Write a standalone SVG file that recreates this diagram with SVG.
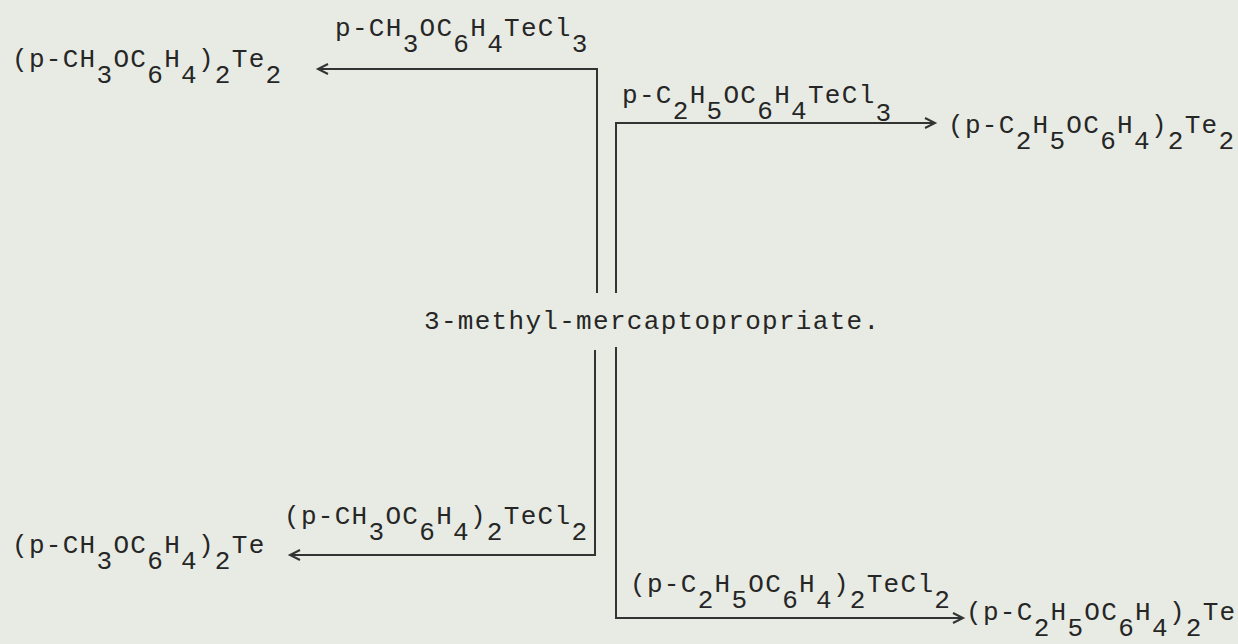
<svg xmlns="http://www.w3.org/2000/svg" width="1238" height="644" viewBox="0 0 1238 644">
<style>
  .t { font-family: "Liberation Mono", "DejaVu Sans Mono", monospace; font-size: 26px; fill: #262626; letter-spacing: 1.3px; }
  .c { fill: none; stroke: #333; stroke-width: 2; }
</style>
<defs>
  <marker id="ah" markerUnits="userSpaceOnUse" markerWidth="16" markerHeight="14" refX="13" refY="7" orient="auto">
    <path d="M3,2 L13,7 L3,12" fill="none" stroke="#333" stroke-width="2"/>
  </marker>
</defs>
<rect width="1238" height="644" fill="#e7ebe3"/>
<g id="connectors">
  <path class="c" d="M597,293 V69 H318" marker-end="url(#ah)"/>
  <path class="c" d="M616,293 V123 H935" marker-end="url(#ah)"/>
  <path class="c" d="M595,350 V555 H290" marker-end="url(#ah)"/>
  <path class="c" d="M616,347 V618 H963" marker-end="url(#ah)"/>
</g>
<g id="center">
  <text class="t" x="424" y="329">3-methyl-mercaptopropriate.</text>
</g>
<g id="p1">
  <text class="t" x="12" y="67">(p-CH<tspan dy="16">3</tspan><tspan dy="-16">OC</tspan><tspan dy="16">6</tspan><tspan dy="-16">H</tspan><tspan dy="16">4</tspan><tspan dy="-16">)</tspan><tspan dy="16">2</tspan><tspan dy="-16">Te</tspan><tspan dy="16">2</tspan></text>
</g>
<g id="r1">
  <text class="t" x="335" y="36">p-CH<tspan dy="16">3</tspan><tspan dy="-16">OC</tspan><tspan dy="16">6</tspan><tspan dy="-16">H</tspan><tspan dy="16">4</tspan><tspan dy="-16">TeCl</tspan><tspan dy="16">3</tspan></text>
</g>
<g id="r2">
  <text class="t" x="622" y="103">p-C<tspan dy="16">2</tspan><tspan dy="-16">H</tspan><tspan dy="16">5</tspan><tspan dy="-16">OC</tspan><tspan dy="16">6</tspan><tspan dy="-16">H</tspan><tspan dy="16">4</tspan><tspan dy="-16">TeCl</tspan><tspan dy="18">3</tspan></text>
</g>
<g id="p2">
  <text class="t" x="948" y="133">(p-C<tspan dy="16">2</tspan><tspan dy="-16">H</tspan><tspan dy="16">5</tspan><tspan dy="-16">OC</tspan><tspan dy="16">6</tspan><tspan dy="-16">H</tspan><tspan dy="16">4</tspan><tspan dy="-16">)</tspan><tspan dy="16">2</tspan><tspan dy="-16">Te</tspan><tspan dy="16">2</tspan></text>
</g>
<g id="r3">
  <text class="t" x="284" y="524">(p-CH<tspan dy="16">3</tspan><tspan dy="-16">OC</tspan><tspan dy="16">6</tspan><tspan dy="-16">H</tspan><tspan dy="16">4</tspan><tspan dy="-16">)</tspan><tspan dy="16">2</tspan><tspan dy="-16">TeCl</tspan><tspan dy="16">2</tspan></text>
</g>
<g id="p3">
  <text class="t" x="12" y="553">(p-CH<tspan dy="16">3</tspan><tspan dy="-16">OC</tspan><tspan dy="16">6</tspan><tspan dy="-16">H</tspan><tspan dy="16">4</tspan><tspan dy="-16">)</tspan><tspan dy="16">2</tspan><tspan dy="-16">Te</tspan></text>
</g>
<g id="r4">
  <text class="t" x="630" y="592">(p-C<tspan dy="16">2</tspan><tspan dy="-16">H</tspan><tspan dy="16">5</tspan><tspan dy="-16">OC</tspan><tspan dy="16">6</tspan><tspan dy="-16">H</tspan><tspan dy="16">4</tspan><tspan dy="-16">)</tspan><tspan dy="16">2</tspan><tspan dy="-16">TeCl</tspan><tspan dy="16">2</tspan></text>
</g>
<g id="p4">
  <text class="t" x="966" y="620">(p-C<tspan dy="16">2</tspan><tspan dy="-16">H</tspan><tspan dy="16">5</tspan><tspan dy="-16">OC</tspan><tspan dy="16">6</tspan><tspan dy="-16">H</tspan><tspan dy="16">4</tspan><tspan dy="-16">)</tspan><tspan dy="16">2</tspan><tspan dy="-16">Te</tspan></text>
</g>
</svg>
